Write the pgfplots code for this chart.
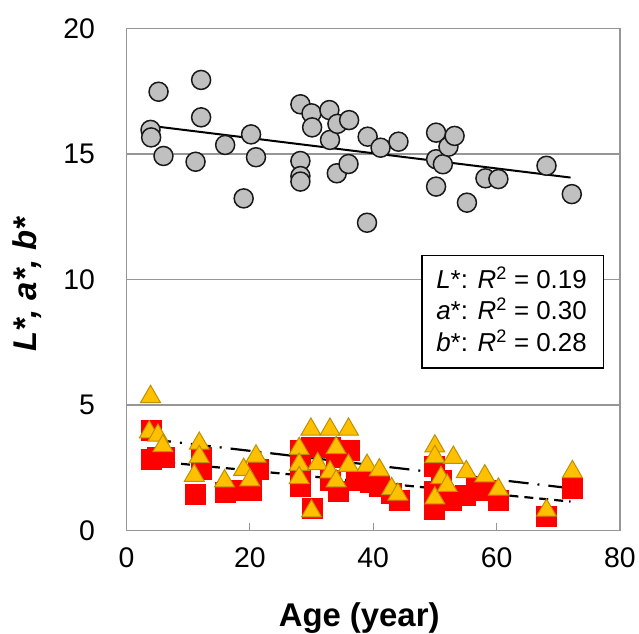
\documentclass[border=0pt]{standalone}
\usepackage{fontspec}
\setmainfont{Liberation Sans}
\usepackage{pgfplots}
\pgfplotsset{compat=1.18}
\definecolor{gridgray}{RGB}{150,150,150}
\definecolor{circfill}{RGB}{192,192,192}
\definecolor{trifill}{RGB}{255,192,0}
\definecolor{tridraw}{RGB}{191,144,0}
\begin{document}
\begin{tikzpicture}
\begin{axis}[
  at={(0,0)}, anchor=south west,
  scale only axis, width=493.5bp, height=502bp,
  xmin=0, xmax=80, ymin=0, ymax=20,
  xtick={0,20,40,60,80}, ytick={0,5,10,15,20},
  xtick pos=bottom, ytick pos=left,
  axis line style={gridgray, line width=1.5bp},
  ymajorgrids, grid style={gridgray, line width=1.5bp},
  x tick style={gridgray, line width=1.2bp}, major tick length=7bp,
  y tick style={draw=none},
  tick label style={font=\fontsize{28.5}{34}\selectfont},
  /pgf/number format/assume math mode=true,
  xticklabel style={yshift=-14bp},
  yticklabel style={xshift=-28bp},
  xlabel={\bfseries Age (year)},
  ylabel={\bfseries\itshape L*, a*, b*},
  xlabel style={at={(axis description cs:0.4716,-0.1922)}, anchor=base, inner sep=0pt, font=\fontsize{33}{40}\selectfont},
  ylabel style={at={(axis description cs:-0.1826,0.49)}, anchor=base, inner sep=0pt, font=\fontsize{33}{40}\selectfont},
]
% a* (red squares)
\addplot[only marks, mark=square*, mark size=10bp, mark options={fill=red, draw=red, line width=0pt}] coordinates {
(4.1,4.0) (4.1,2.84) (5.1,2.9) (6.1,2.92) (12.2,2.9) (12.2,2.41) (11.2,1.43) (16.0,1.53) (18.7,1.59) (20.3,1.59) (21.4,2.41)
(28.2,3.2) (28.2,2.6) (28.2,1.75) (30.0,3.3) (31.6,3.3) (33.0,3.3) (33.0,2.0) (34.0,2.9) (34.3,1.55) (36.2,3.2) (37.3,2.0)
(39.5,1.9) (41.1,1.75) (43.0,1.48) (44.3,1.2) (30.1,0.88) (50.0,2.54) (50.0,1.55) (50.0,0.82) (51.0,2.0)
(52.7,1.2) (54.9,1.41) (56.8,1.7) (58.4,1.6) (60.3,1.21) (68.1,0.55) (72.3,1.68)
};
% b* (orange triangles)
\addplot[only marks, mark=triangle*, mark size=11.5bp, mark options={fill=trifill, draw=tridraw, line width=1bp, yshift=-2.9bp}] coordinates {
(3.9,5.44) (3.7,4.03) (5.1,3.9) (5.9,3.48) (11.8,3.58) (11.8,3.05) (11.0,2.3) (15.9,2.08) (19.0,2.54) (21.0,3.07) (20.0,2.12)
(29.9,4.14) (33.0,4.14) (36.0,4.14) (28.0,3.37) (34.0,3.4) (28.0,2.74) (31.0,2.77) (33.0,2.44) (36.0,2.7) (34.0,2.08) (28.0,2.21)
(39.0,2.7) (41.0,2.52) (43.0,1.77) (44.0,1.55) (30.0,0.88) (50.0,3.47) (50.0,3.05) (51.0,2.21) (50.0,1.4) (52.0,1.9)
(53.0,3.02) (55.1,2.45) (58.1,2.28) (60.3,1.75) (68.1,0.91) (72.3,2.45)
};
% L* (gray circles)
\addplot[only marks, mark=*, mark size=9.5bp, mark options={fill=circfill, draw=black!90, line width=1.5bp}] coordinates {
(3.9,15.96) (4.0,15.66) (5.2,17.48) (6.0,14.92) (11.2,14.69) (12.1,17.95) (12.1,16.46) (16.0,15.36) (19.0,13.23) (20.2,15.78)
(21.0,14.87) (28.2,16.98) (28.2,14.72) (28.2,14.12) (28.2,13.90) (30.0,16.62) (30.1,16.06) (32.9,16.75) (33.0,15.56) (34.1,14.23)
(34.2,16.20) (36.0,14.60) (36.1,16.35) (39.0,12.26) (39.1,15.69) (41.2,15.25) (44.1,15.49) (50.2,15.85) (50.2,14.79) (50.2,13.70)
(51.3,14.59) (52.2,15.29) (53.2,15.72) (55.2,13.06) (58.2,14.03) (60.3,14.00) (68.1,14.53) (72.2,13.40)
};
% trend lines
\addplot[black, line width=2bp, no markers] coordinates {(4,16.12) (72,14.06)};
\addplot[black, line width=2.2bp, no markers, dash pattern=on 20bp off 9bp on 2bp off 9bp] coordinates {(4,3.63) (72,1.68)};
\addplot[black, line width=2.2bp, no markers, dash pattern=on 9bp off 6bp] coordinates {(4,2.77) (72,1.15)};
% R^2 box
\draw[black, line width=1.2bp, fill=white] (axis cs:47.9,6.47) rectangle (axis cs:77.3,10.94);
\node[anchor=base west, inner sep=0pt, font=\fontsize{26}{31}\selectfont] at (axis cs:50.2,9.65) {\textit{L}*: \textit{R}\textsuperscript{2} = 0.19};
\node[anchor=base west, inner sep=0pt, font=\fontsize{26}{31}\selectfont] at (axis cs:50.2,8.39) {\textit{a}*: \textit{R}\textsuperscript{2} = 0.30};
\node[anchor=base west, inner sep=0pt, font=\fontsize{26}{31}\selectfont] at (axis cs:50.2,7.12) {\textit{b}*: \textit{R}\textsuperscript{2} = 0.28};
\end{axis}
\path (-126.5bp,-103.5bp) rectangle (512.5bp,530.5bp);
\end{tikzpicture}
\end{document}
